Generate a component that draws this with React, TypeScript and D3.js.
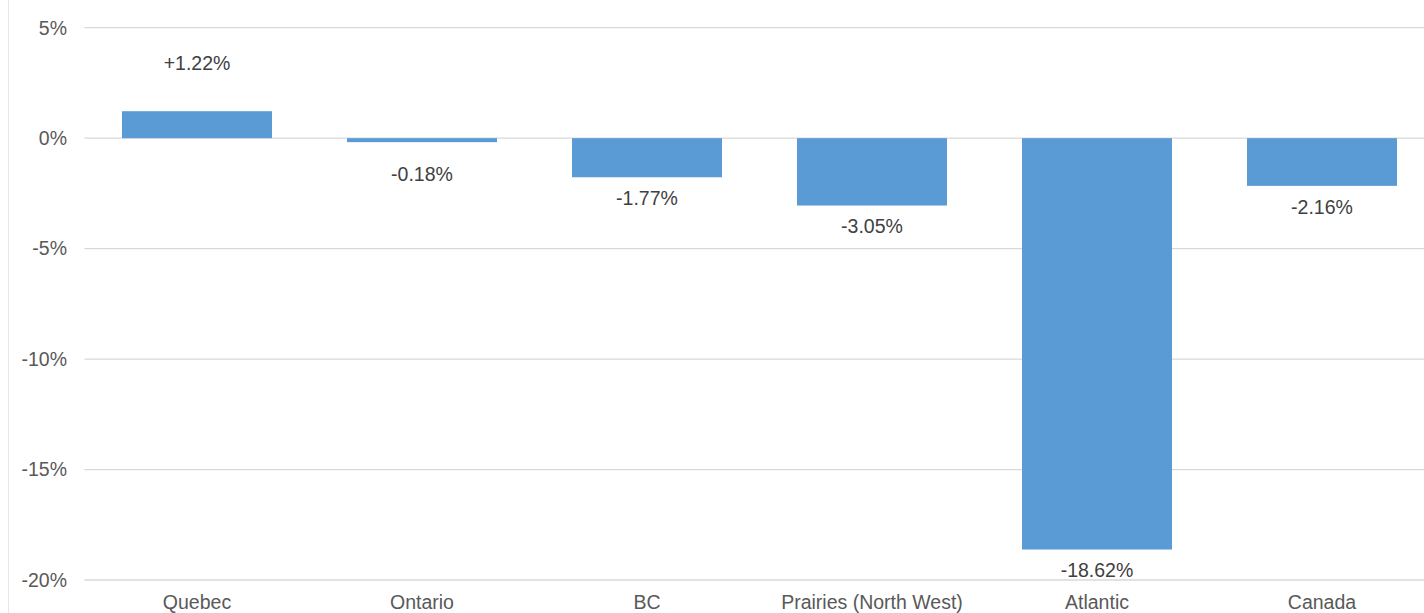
import React from "react";
import * as d3 from "d3";

const categories = ["Quebec", "Ontario", "BC", "Prairies (North West)", "Atlantic", "Canada"];
const values = [1.22, -0.18, -1.77, -3.05, -18.62, -2.16];
const labels = ["+1.22%", "-0.18%", "-1.77%", "-3.05%", "-18.62%", "-2.16%"];
const yTicks = [5, 0, -5, -10, -15, -20];

const W = 1424;
const H = 613;
const left = 84.5;
const right = 1434.5;
const top = 27.7;
const bottom = 580;
const font = "'Liberation Sans', Arial, sans-serif";
const textColor = "#595959";

export default function App() {
  const x = d3.scaleBand<string>().domain(categories).range([left, right]).paddingInner(1 / 3).paddingOuter(1 / 6);
  const y = d3.scaleLinear().domain([-20, 5]).range([bottom, top]);
  const y0 = y(0);
  return (
    <svg width={W} height={H} style={{ position: "fixed", left: 0, top: 0, background: "#fff" }}>
      <rect x={0} y={0} width={W} height={H} fill="#fff" />
      <line x1={8.5} x2={8.5} y1={0} y2={H} stroke="#E6E6E6" strokeWidth={1} />
      {yTicks.map((t) => (
        <g key={t}>
          <line x1={left} x2={right} y1={y(t)} y2={y(t)} stroke="#D9D9D9" strokeWidth={1.3} />
          <text x={67} y={y(t)} dy="0.35em" textAnchor="end" fontFamily={font} fontSize={19.5} fill={textColor}>
            {t + "%"}
          </text>
        </g>
      ))}
      {categories.map((c, i) => {
        const v = values[i];
        const yv = y(v);
        const bx = x(c)!;
        const bw = x.bandwidth();
        const ly = v >= 0 ? Math.min(yv - 48, y0 - 75) : Math.max(yv + 21, y0 + 36);
        return (
          <g key={c}>
            <rect x={bx} y={Math.min(yv, y0)} width={bw} height={Math.max(Math.abs(yv - y0), 1)} fill="#5B9BD5" />
            <text x={bx + bw / 2} y={ly} dy="0.35em" textAnchor="middle" fontFamily={font} fontSize={19.5} fill="#404040">
              {labels[i]}
            </text>
            <text x={bx + bw / 2} y={602} dy="0.35em" textAnchor="middle" fontFamily={font} fontSize={19.5} fill={textColor}>
              {c}
            </text>
          </g>
        );
      })}
    </svg>
  );
}
